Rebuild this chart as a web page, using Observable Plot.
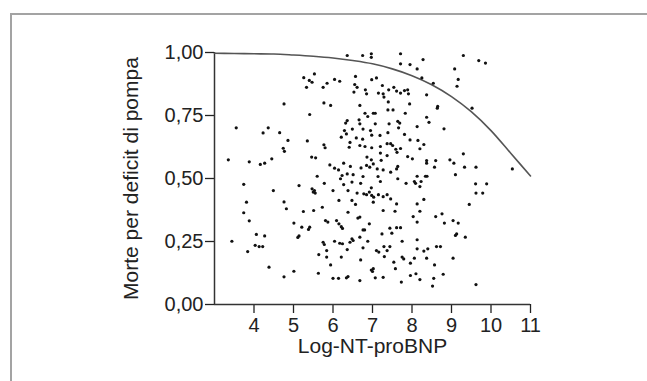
<!DOCTYPE html>
<html><head><meta charset="utf-8">
<script src="https://cdn.jsdelivr.net/npm/d3@7"></script>
<script src="https://cdn.jsdelivr.net/npm/@observablehq/plot@0.6"></script>
<style>
html,body{margin:0;padding:0;background:#fff;}
#wrap{position:relative;width:647px;height:381px;overflow:hidden;}
#border{position:absolute;left:10px;top:13px;right:-5px;bottom:-5px;border-top:2px solid #a3a3a3;border-left:2px solid #a3a3a3;}
#chart{position:absolute;left:0;top:0;}
</style></head><body>
<div id="wrap"><div id="chart"></div><div id="border"></div></div>
<script>
// Scatter points: Log-NT-proBNP (x) vs probability of pump-failure death (y)
const pointX = [
5.26,5.40,5.33,4.76,5.41,3.55,4.36,4.23,4.65,4.86,5.35,4.74,4.77,3.35,3.88,4.16,4.27,4.45,
3.74,5.14,4.49,3.81,4.76,4.82,3.74,5.25,3.88,5.01,5.21,5.41,5.38,4.06,4.27,3.44,5.14,5.11,4.03,4.13,4.22,3.84,4.38,5.01,4.76,
6.36,6.75,6.97,6.97,7.71,7.71,7.95,5.53,5.47,5.85,5.75,6.04,6.17,6.57,6.55,6.61,6.53,6.82,6.85,6.98,7.10,7.25,7.15,7.27,7.29,7.41,7.54,7.61,7.71,7.81,7.89,7.91,7.40,7.94,5.77,5.94,6.68,6.81,6.88,7.02,7.07,7.39,7.52,7.83,6.36,6.32,6.66,6.68,7.07,7.42,7.64,7.69,7.66,6.29,6.49,6.34,6.76,6.95,6.98,7.39,7.81,7.95,6.21,6.43,6.41,6.59,6.75,6.68,6.81,5.77,5.80,6.98,7.19,7.20,7.37,7.46,7.51,7.59,7.71,5.46,5.56,5.92,6.27,6.86,6.97,6.85,6.93,7.02,7.20,7.22,7.37,7.62,7.89,6.04,6.14,6.44,6.71,7.12,7.27,7.61,7.64,
8.13,8.28,8.25,8.54,9.30,9.69,9.86,9.08,9.17,9.14,8.37,8.65,8.64,9.52,8.37,8.43,8.13,8.81,8.15,8.30,8.20,9.30,8.01,8.37,8.37,8.60,8.96,9.06,8.57,9.33,9.62,10.54,
5.60,6.23,6.19,6.36,6.51,6.76,7.14,7.20,7.46,7.64,7.85,5.78,6.27,6.48,6.70,5.47,5.53,5.55,5.50,6.97,6.00,6.38,6.61,6.78,6.85,6.92,6.98,7.03,7.15,7.27,7.37,7.46,7.61,6.15,6.48,6.57,7.02,5.51,5.73,6.38,6.68,6.63,7.27,7.57,6.92,5.81,5.87,6.09,6.15,6.21,6.24,6.76,6.80,7.24,7.44,7.49,7.61,7.71,5.75,5.78,5.84,6.04,6.17,6.24,6.43,6.48,6.51,6.36,6.68,6.76,6.88,7.10,7.16,7.29,7.37,7.44,7.75,5.64,5.84,6.21,6.70,7.30,7.54,7.75,7.79,5.94,6.97,7.00,7.02,7.58,5.63,6.00,6.14,6.34,6.38,6.68,7.07,7.27,7.73,
8.13,8.34,8.38,9.10,8.06,8.09,8.23,8.20,9.61,9.89,9.62,9.79,8.30,8.13,8.20,8.03,8.13,8.60,8.76,8.82,9.04,9.17,9.45,9.10,9.13,9.35,8.13,8.13,8.30,8.40,8.62,8.72,8.06,8.37,9.04,7.96,8.10,8.20,8.55,8.79,8.52,8.57,9.62,7.96
];
const pointY = [
0.900,0.889,0.862,0.796,0.754,0.701,0.701,0.681,0.682,0.651,0.649,0.620,0.608,0.574,0.566,0.556,0.561,0.578,
0.477,0.472,0.452,0.406,0.407,0.380,0.364,0.369,0.332,0.323,0.307,0.307,0.298,0.278,0.272,0.251,0.272,0.266,0.235,0.230,0.230,0.210,0.148,0.132,0.110,
0.988,0.988,0.995,0.981,0.995,0.955,0.952,0.915,0.882,0.878,0.862,0.893,0.886,0.905,0.873,0.862,0.843,0.852,0.836,0.892,0.899,0.869,0.839,0.836,0.823,0.852,0.862,0.847,0.839,0.849,0.852,0.836,0.804,0.796,0.800,0.790,0.790,0.759,0.746,0.759,0.759,0.772,0.772,0.759,0.730,0.720,0.733,0.717,0.717,0.717,0.727,0.720,0.701,0.690,0.696,0.677,0.696,0.690,0.672,0.682,0.675,0.653,0.664,0.643,0.624,0.661,0.656,0.631,0.627,0.634,0.622,0.622,0.671,0.627,0.638,0.638,0.631,0.616,0.619,0.585,0.582,0.554,0.561,0.585,0.574,0.552,0.545,0.558,0.601,0.572,0.591,0.604,0.587,0.541,0.534,0.548,0.542,0.538,0.534,0.538,0.548,
0.935,0.972,0.899,0.878,0.988,0.968,0.958,0.935,0.893,0.866,0.832,0.786,0.779,0.779,0.743,0.723,0.706,0.697,0.651,0.635,0.618,0.598,0.578,0.571,0.561,0.571,0.574,0.561,0.545,0.545,0.545,0.538,
0.509,0.512,0.499,0.518,0.515,0.508,0.508,0.488,0.525,0.499,0.481,0.481,0.476,0.486,0.481,0.459,0.452,0.442,0.446,0.463,0.452,0.452,0.442,0.439,0.436,0.446,0.433,0.426,0.436,0.428,0.436,0.419,0.399,0.413,0.413,0.397,0.406,0.373,0.386,0.366,0.347,0.343,0.373,0.370,0.320,0.333,0.327,0.333,0.320,0.309,0.302,0.296,0.296,0.280,0.303,0.283,0.305,0.305,0.247,0.238,0.214,0.251,0.243,0.241,0.247,0.261,0.254,0.218,0.267,0.225,0.251,0.214,0.208,0.230,0.214,0.230,0.251,0.198,0.188,0.188,0.177,0.190,0.168,0.188,0.181,0.157,0.137,0.131,0.142,0.142,0.124,0.104,0.104,0.106,0.111,0.095,0.106,0.108,0.089,
0.509,0.509,0.509,0.515,0.488,0.481,0.488,0.468,0.479,0.479,0.442,0.442,0.417,0.399,0.370,0.349,0.327,0.349,0.360,0.323,0.333,0.323,0.397,0.274,0.280,0.267,0.257,0.221,0.212,0.221,0.230,0.230,0.184,0.184,0.184,0.164,0.122,0.099,0.104,0.120,0.073,0.157,0.079,0.115
];
// Fitted curve
const curveX = [3,3.5,4,4.5,5,5.5,6,6.5,7,7.5,8,8.5,9,9.5,10,10.5,11];
const curveY = [0.997,0.996,0.995,0.994,0.990,0.985,0.978,0.968,0.955,0.935,0.908,0.872,0.825,0.765,0.690,0.600,0.510];
const xTicks = [4,5,6,7,8,9,10,11];
const yTicks = [0,0.25,0.5,0.75,1];
const xLabel = "Log-NT-proBNP";
const yLabel = "Morte per deficit di pompa";

const points = pointX.map((x, i) => ({x, y: pointY[i]}));
const curve = curveX.map((x, i) => ({x, y: curveY[i]}));
const fmt = d => d.toFixed(2).replace(".", ",");

const chart = Plot.plot({
  width: 647, height: 381,
  marginLeft: 214, marginRight: 117, marginTop: 52, marginBottom: 77,
  style: {fontFamily: "'Liberation Sans', Arial, sans-serif", background: "transparent", color: "#222"},
  x: {domain: [3, 11]},
  y: {domain: [0, 1]},
  marks: [
    Plot.axisY({ticks: yTicks, tickFormat: fmt, tickSize: 9, tickPadding: 2, fontSize: 20, label: null, strokeWidth: 1.3}),
    Plot.axisX({ticks: xTicks, tickFormat: d => String(d), tickSize: 9, tickPadding: 4, fontSize: 20, label: null, strokeWidth: 1.3}),
    Plot.ruleX([3], {stroke: "#333", strokeWidth: 1.5}),
    Plot.ruleY([0], {stroke: "#333", strokeWidth: 1.5}),
    Plot.line(curve, {x: "x", y: "y", stroke: "#555", strokeWidth: 1.6, curve: "monotone-x"}),
    Plot.dot(points, {x: "x", y: "y", r: 1.6, fill: "#111", stroke: null}),
    Plot.text([xLabel], {text: d => d, frameAnchor: "bottom", dy: 48, fontSize: 21, fill: "#222"}),
    Plot.text([yLabel], {text: d => d, frameAnchor: "left", textAnchor: "middle", dx: -83, rotate: -90, fontSize: 21, fill: "#222"})
  ]
});
document.getElementById("chart").appendChild(chart);
</script>
</body></html>
